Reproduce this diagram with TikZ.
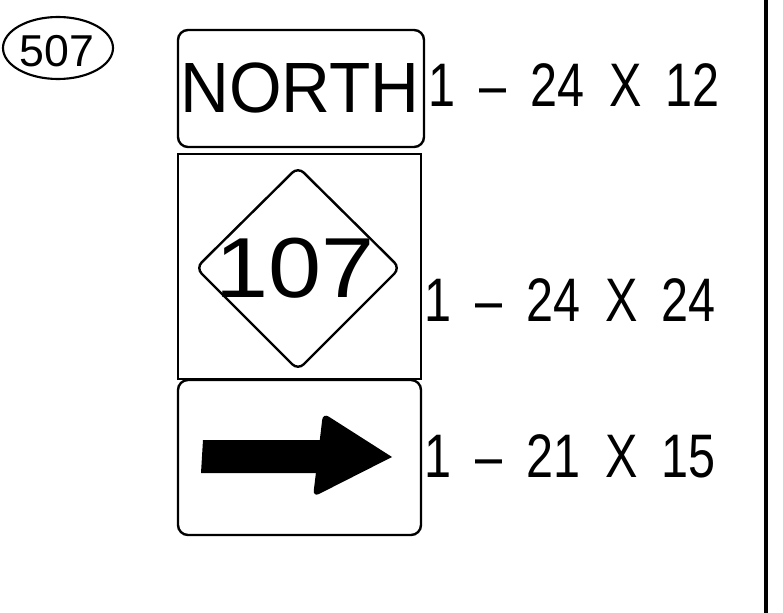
\documentclass[tikz,border=0pt]{standalone}
\usepackage{graphicx}
\usepackage{fontspec}
\setmainfont{Liberation Sans}
\newfontfamily\sizefont[WordSpace=1.8]{Liberation Sans}
\tikzset{
  signtext/.style={inner sep=0pt, anchor=base},
  sizelbl/.style={inner sep=0pt, anchor=base west, font=\sizefont\fontsize{46.1}{50}\selectfont},
}
\begin{document}
\begin{tikzpicture}[x=0.75pt,y=-0.75pt,line width=1.8pt]
\useasboundingbox (0,0) rectangle (783,613);
% sheet edge
\draw[line width=3.2pt] (766,0) -- (766,613);
% detail tag
\draw[line width=1.6pt] (58,48) ellipse [x radius=55, y radius=31];
\node[signtext,font=\fontsize{33.5}{36}\selectfont] (tag) at (57,67) {507};
% NORTH plate
\draw[rounded corners=7.5pt] (178,30) rectangle (424,147);
\node[signtext,font=\fontsize{53.4}{58}\selectfont] (north) at (300,113) {\scalebox{0.95}[1]{NORTH}};
% route marker
\draw (178,154) rectangle (421,379);
\draw[rounded corners=6pt] (298,167) -- (400,268) -- (298,370) -- (196,268) -- cycle;
\node[signtext,font=\fontsize{63.9}{68}\selectfont] (route) at (295,298) {\scalebox{1.12}[1]{107}};
% arrow plate
\draw[rounded corners=7.5pt] (178,380) rectangle (421,535);
\fill (203,440) -- (319.8,440) [rounded corners=5pt] -- (323,413) [sharp corners] -- (392,457)
  [rounded corners=5pt] -- (313,497) [sharp corners] -- (315.9,473) -- (201,473) -- cycle;
% sizes
\foreach \x/\y/\t [count=\i] in {427/107/{1 – 24 X 12},423/322/{1 – 24 X 24},423/478/{1 – 21 X 15}}
\node[sizelbl] (size\i) at (\x,\y) {\scalebox{0.79}[1]{\t}};
\end{tikzpicture}
\end{document}
